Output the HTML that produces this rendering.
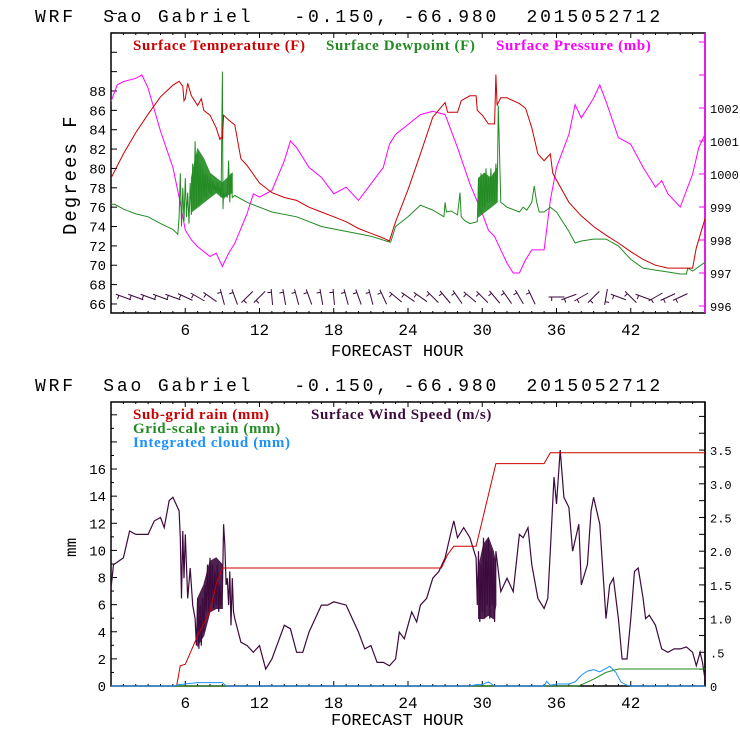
<!DOCTYPE html>
<html><head><meta charset="utf-8"><style>
html,body{margin:0;padding:0;background:#fff;}
svg{display:block;}
text{font-family:"Liberation Mono",monospace;}
.lg{font-family:"Liberation Serif",serif;font-size:15px;font-weight:bold;letter-spacing:0.6px;}
.tt{white-space:pre;}
</style></head><body>
<svg id="c" width="740" height="740" viewBox="0 0 740 740" xmlns="http://www.w3.org/2000/svg">
<text class="tt" xml:space="preserve" x="35" y="22" font-size="18" letter-spacing="2.85">WRF  Sao Gabriel   -0.150, -66.980  2015052712</text>
<text class="tt" xml:space="preserve" x="35" y="391" font-size="18" letter-spacing="2.85">WRF  Sao Gabriel   -0.150, -66.980  2015052712</text>
<text class="lg" x="133" y="50" fill="#cc0000">Surface Temperature (F)</text>
<text class="lg" x="326" y="50" fill="#228b22">Surface Dewpoint (F)</text>
<text class="lg" x="496" y="50" fill="#ff00ff">Surface Pressure (mb)</text>
<text class="lg" x="133" y="419" fill="#cc0000">Sub-grid rain (mm)</text>
<text class="lg" x="311" y="419" fill="#3d0a3d">Surface Wind Speed (m/s)</text>
<text class="lg" x="133" y="433" fill="#228b22">Grid-scale rain (mm)</text>
<text class="lg" x="133" y="447" fill="#1e90ff">Integrated cloud (mm)</text>
<text x="0" y="0" font-size="19" letter-spacing="2" transform="translate(76,235) rotate(-90)">Degrees F</text>
<text x="0" y="0" font-size="16" transform="translate(76,557) rotate(-90)">mm</text>
<text x="331" y="356" font-size="17">FORECAST HOUR</text>
<text x="331" y="725" font-size="17">FORECAST HOUR</text>
<g id="topg"></g><g id="botg"></g>
</svg>
<script>
// ---- data ----
const hourTicks=[6,12,18,24,30,36,42];
const tempTicks=[66,68,70,72,74,76,78,80,82,84,86,88];
const presTicks=[996,997,998,999,1000,1001,1002];
const mmTicks=[0,2,4,6,8,10,12,14,16];
const windTicks=[0,0.5,1.0,1.5,2.0,2.5,3.0,3.5];
const windTickLabels=["0",".5","1.0","1.5","2.0","2.5","3.0","3.5"];
const tempHours=[0,1,2,3,4,5,5.5,5.8,5.9,6,6.2,6.5,7,7.3,7.5,8,8.5,8.8,8.9,9.0,9.1,9.5,10,10.5,11,12,13,14,15,16,17,18,19,20,21,22,22.5,23,24,25,26,27,27.2,28,28.3,29,29.5,29.6,30,30.5,31,31.1,31.2,31.3,31.5,32,33,33.5,34,34.5,35,35.5,35.7,36,37,38,39,40,41,42,43,44,45,46,47,47.3,48];
const tempVals=[79,81.5,83.7,85.6,87.4,88.6,89,88.5,87,87.2,88.8,87.5,86.5,87.2,86,85.5,84.2,83,83.2,83.1,85.5,85,84.5,81,80.3,78.5,77.5,77,76.7,76,75.5,75,74.5,73.8,73.3,72.8,72.5,74.5,77.8,81.5,85.3,86.8,85.8,85.8,87,87.5,87.5,86,85.5,84.6,84.6,89.7,86.5,86.8,87.3,87.3,86.7,86.2,84.2,81.5,80.8,81.5,79.5,78.8,76.5,75.1,74,73.1,72.3,71.4,70.6,70,69.7,69.7,69.7,71.8,74.8];
const dewHours=[0,0.3,1,2,3,4,5,5.4,5.5,5.6,5.7,5.8,5.9,6.0,6.1,6.2,6.3,6.4,6.5,6.6,6.7,6.8,6.9,7.0,7.1,7.2,7.3,7.4,7.5,7.6,7.7,7.8,7.9,8.0,8.1,8.2,8.3,8.4,8.5,8.6,8.7,8.8,8.9,9.0,9.05,9.1,9.2,9.3,9.4,9.5,9.6,9.7,9.8,10,11,12,13,15,17,19,21,22.5,22.6,23,24,25,26,26.9,27,27.1,27.5,28,28.2,28.3,28.6,29,29.6,29.7,29.8,29.9,30.0,30.1,30.2,30.3,30.4,30.5,30.6,30.7,30.8,30.9,31.0,31.1,31.2,31.3,31.5,32,33,33.3,33.6,34,34.2,34.4,34.6,35,35.5,36,37,37.5,38,39,40,41,42,43,44,45,46,46.5,46.6,47,48];
const dewVals=[76.3,76.3,75.8,75.3,75,74.3,73.7,73.2,75,79.5,74,78,74.5,79,75,77.5,74.3,78.5,75.2,80.5,75.8,82.8,76,81.5,76.2,80.5,76.5,80,77,79.5,77,79.3,77.5,79,77.3,78.7,77.7,78.3,77.5,78.5,77.5,78,77,90,75.8,77.5,77,77.3,77,80.8,76.5,79.5,77,77.2,76.5,76,75.5,75,74,73.5,73,72.4,72.4,74,75,76.2,75.7,75,76.5,75.5,75.6,75.2,77.5,75,74.6,74.3,74.5,79,75.5,79.5,75.8,79.5,76,80,76.5,79,76.5,80,76.5,79.5,76.5,80.5,76.5,86.5,76.5,76,75.5,76,75.7,76.5,78.2,76.5,75.5,75.5,76,75.5,73.5,72.3,72.5,72.7,72.7,72,70.6,69.7,69.5,69.3,69.1,69.1,69.7,69.4,70.3];
const dewBand1Hours=[6.5,7,7.5,8,8.5,9,9.8];
const dewBand1Low=[75.5,76,76.5,77,77.5,77,77.5];
const dewBand1High=[79,82,81,79.5,79,78.5,79.5];
const dewBand2Hours=[29.7,30.2,30.7,31.2];
const dewBand2Low=[75,75.5,76,76.5];
const dewBand2High=[79,79.5,79,80];
const presHours=[0,0.5,1,2,2.5,3,4,5,5.5,6,6.5,7,8,8.5,9,9.5,10,11,11.5,12,13,14,14.5,15,16,17,18,19,20,21,22,22.5,23,24,25,26,27,28,29,30,30.5,31,32,32.5,33,33.5,34,35,35.5,36,37,37.5,38,39,39.5,40,41,42,43,44,44.5,45,46,47,47.5,48];
const presVals=[1002.2,1002.7,1002.8,1002.9,1003.0,1002.6,1001.3,1000.2,999.3,998.3,998.0,997.8,997.5,997.6,997.2,997.6,997.9,998.8,999.4,999.3,999.5,1000.4,1001.0,1000.8,1000.2,999.9,999.4,999.6,999.2,999.7,1000.2,1000.9,1001.2,1001.5,1001.8,1001.9,1001.8,1000.8,999.7,998.8,998.3,998.1,997.3,997.0,997.0,997.4,997.7,997.7,999.2,1000.2,1001.2,1002.1,1001.7,1002.3,1002.7,1002.2,1001.1,1000.9,1000.2,999.6,999.8,999.4,999.0,1000.0,1000.8,1001.2];
const barbHours=[1,2,3,4,5,6,7,8,9,10,11,12,13,14,15,16,17,18,19,20,21,22,23,24,25,26,27,28,29,30,31,32,33,34,36,37,38,39,40,41,42,43,44,45,46];
const barbAngles=[20,20,20,20,20,25,30,35,75,70,-45,-45,85,80,75,70,80,85,75,70,75,65,40,35,35,45,50,55,40,45,50,55,60,65,0,-20,-30,-45,-80,20,45,20,-30,-25,-25];
const subHours=[0,5.3,5.6,6,7,8,8.5,9,26.7,27.2,27.7,29.5,31.1,35.0,35.5,48];
const subVals=[0,0,1.5,1.6,3.7,5.5,7.5,8.7,8.7,9.7,10.3,10.3,16.4,16.4,17.2,17.2];
const gridHours=[0,37.8,39,40,41,48];
const gridVals=[0,0,0.5,1.0,1.25,1.25];
const cloudHours=[0,5,5.5,7,9,9.3,29,29.5,30,30.5,31,35,35.2,35.5,36,37,37.5,38,38.5,39,39.5,40,40.3,40.8,41.2,41.7,42,48];
const cloudVals=[0,0,0.1,0.25,0.25,0,0,0.1,0.1,0.3,0,0,0.35,0.05,0.15,0.15,0.3,0.8,1.1,1.2,1.05,1.3,1.45,1.0,0.3,0.05,0,0];
const windHours=[0,0.2,1,1.5,2,3,3.5,4,4.3,4.7,5,5.5,5.6,5.7,5.8,5.9,6,6.2,6.4,6.6,6.8,6.9,7.0,7.1,7.2,7.3,7.4,7.5,7.6,7.7,7.8,7.9,8.0,8.1,8.2,8.3,8.4,8.5,8.6,8.7,8.8,8.9,9.0,9.1,9.2,9.3,9.4,9.5,9.6,9.7,9.8,9.9,10,10.5,11,11.5,12,12.5,13,14,14.5,15,15.5,16,17,17.5,18,19,19.5,20,20.5,21,21.5,22,22.5,23,23.3,23.7,24,24.3,24.7,25,25.5,26,26.5,27,27.5,27.7,28,28.5,29,29.5,29.6,29.7,29.8,29.9,30.0,30.1,30.2,30.3,30.4,30.5,30.6,30.7,30.8,30.9,31.0,31.1,31.5,32,32.5,33,33.3,33.7,34,34.5,35,35.3,35.5,35.8,36,36.3,36.6,37,37.3,37.8,38,38.5,38.8,39,39.5,40,40.3,40.6,41,41.3,41.7,42,42.3,42.6,43,43.2,43.5,44,44.5,45,45.5,46,46.5,47,47.3,47.6,47.8,48];
const windVals=[1.45,1.8,1.9,2.3,2.25,2.25,2.45,2.5,2.35,2.75,2.8,2.6,2.2,1.3,2.3,1.6,2.25,1.3,1.75,1.2,1.0,0.6,1.3,0.55,1.2,0.6,1.3,0.8,1.5,1.1,1.8,1.1,1.9,1.2,1.8,1.15,1.7,1.2,1.8,1.1,1.5,1.2,1.4,2.4,2.1,1.5,1.6,1.2,1.7,0.9,1.6,1.1,1.0,0.65,0.6,0.5,0.6,0.25,0.4,0.9,0.85,0.5,0.5,0.8,1.2,1.2,1.25,1.2,1.0,0.8,0.55,0.6,0.35,0.35,0.3,0.4,0.8,0.7,0.9,1.1,0.95,1.2,1.3,1.6,1.7,1.9,2.3,2.45,2.2,2.35,2.2,1.9,1.2,2.0,0.95,1.8,1.1,2.2,1.0,2.1,1.2,2.2,1.0,2.0,1.2,1.9,0.95,2.0,1.4,1.6,1.4,2.25,2.2,2.35,1.8,1.3,1.15,1.3,2.0,3.1,2.7,3.5,2.8,2.65,2.0,2.4,1.5,1.8,2.6,2.8,2.4,1.0,1.5,1.6,1.0,0.4,0.4,1.0,1.7,1.75,1.3,1.0,1.05,0.9,0.55,0.5,0.55,0.55,0.58,0.5,0.3,0.5,0.35,0.1,0.15];
const windBand1Hours=[7.0,7.5,8.0,8.5,9.0];
const windBand1Low=[0.6,0.75,1.1,1.15,1.15];
const windBand1High=[1.3,1.5,1.85,1.9,1.8];
const windBand2Hours=[29.7,30.1,30.5,30.9,31.1];
const windBand2Low=[1.0,1.0,1.05,1.0,1.2];
const windBand2High=[1.75,2.1,2.2,2.0,1.8];
</script>
<script>
const NS="http://www.w3.org/2000/svg";
const X0=111,X1=705;
const xs=h=>X0+h*(X1-X0)/48;
const yT=v=>91+(88-v)*9.68;
const yP=p=>306-(p-996)*33;
const yM=v=>686-v*13.56;
const yW=w=>686-w*67.4;
function mk(tag,attrs,parent){const e=document.createElementNS(NS,tag);for(const k in attrs)e.setAttribute(k,attrs[k]);parent.appendChild(e);return e;}
const topG=document.getElementById('topg'),botG=document.getElementById('botg');
function frame(g,y0,y1,rightColor,name){
  const r=mk('rect',{x:X0,y:y0,width:X1-X0,height:y1-y0,fill:'none',stroke:'#000','stroke-width':1.5},g);
  
  
  const rl=mk('line',{x1:X1,y1:y0,x2:X1,y2:y1,stroke:rightColor,'stroke-width':1.5},g);
  
  
  for(let h=1;h<48;h++){
    const len=h%6===0?5:2;
    mk('line',{x1:xs(h),y1:y1,x2:xs(h),y2:y1-len,stroke:'#000'},g);
    mk('line',{x1:xs(h),y1:y0,x2:xs(h),y2:y0+len,stroke:'#000'},g);
  }
  hourTicks.forEach(h=>{
    const t=mk('text',{x:xs(h),y:y1+22,'font-size':16,'text-anchor':'middle'},g);
    t.textContent=h;
    
    
  });
}
function path(g,hs,vs,yf,color,name,w){
  let d='';hs.forEach((h,i)=>{d+=(i?'L':'M')+xs(h).toFixed(1)+','+yf(vs[i]).toFixed(1);});
  const p=mk('path',{d:d,fill:'none',stroke:color,'stroke-width':w||1},g);
  
  
}
function band(g,hs,lo,hi,yf,color,name){
  let d='';hs.forEach((h,i)=>{d+=(i?'L':'M')+xs(h).toFixed(1)+','+yf(hi[i]).toFixed(1);});
  for(let i=hs.length-1;i>=0;i--)d+='L'+xs(hs[i]).toFixed(1)+','+yf(lo[i]).toFixed(1);
  const p=mk('path',{d:d+'Z',fill:color,stroke:color,'stroke-width':1,opacity:0.9},g);
  
  
}
// top panel
frame(topG,33,313,'#ff00ff','top');
for(let v=66;v<=96;v+=2){mk('line',{x1:X0,y1:yT(v),x2:X0+6,y2:yT(v),stroke:'#000'},topG);}
tempTicks.forEach(v=>{const t=mk('text',{x:106,y:yT(v)+5,'font-size':14,'text-anchor':'end'},topG);t.textContent=v;
  
  });
for(let p=996;p<=1004;p++){if(yP(p)>33)mk('line',{x1:X1,y1:yP(p),x2:X1-6,y2:yP(p),stroke:'#ff00ff'},topG);}
presTicks.forEach(p=>{const t=mk('text',{x:710,y:yP(p)+5,'font-size':12},topG);t.textContent=p;
  
  });
path(topG,presHours,presVals,yP,'#ff00ff','pressure-line');
band(topG,dewBand1Hours,dewBand1Low,dewBand1High,yT,'#228b22','dewpoint-noise-band-1');
band(topG,dewBand2Hours,dewBand2Low,dewBand2High,yT,'#228b22','dewpoint-noise-band-2');
path(topG,dewHours,dewVals,yT,'#228b22','dewpoint-line');
path(topG,tempHours,tempVals,yT,'#cc0000','temperature-line');
barbHours.forEach((h,i)=>{
  const a=barbAngles[i]*Math.PI/180,cx=xs(h),cy=297,L=8;
  const dx=Math.cos(a)*L,dy=Math.sin(a)*L;
  const b=mk('line',{x1:cx-dx,y1:cy-dy,x2:cx+dx,y2:cy+dy,stroke:'#3d0a3d','stroke-width':1},topG);
  
  
  mk('line',{x1:cx-dx*0.6,y1:cy-dy*0.6,x2:cx-dx*0.6-dy*0.5,y2:cy-dy*0.6+dx*0.5,stroke:'#3d0a3d'},topG);
});
// bottom panel
frame(botG,402,686,'#000','bottom');
for(let v=0;v<=20;v++){if(yM(v)>402)mk('line',{x1:X0,y1:yM(v),x2:X0+(v%2?3:6),y2:yM(v),stroke:'#000'},botG);}
mmTicks.forEach(v=>{const t=mk('text',{x:106,y:yM(v)+5,'font-size':14,'text-anchor':'end'},botG);t.textContent=v;
  
  });
for(let w=0;w<=4.25;w+=0.25){if(yW(w)>402)mk('line',{x1:X1,y1:yW(w),x2:X1-6,y2:yW(w),stroke:'#000'},botG);}
windTicks.forEach((w,i)=>{const t=mk('text',{x:710,y:yW(w)+5,'font-size':12},botG);t.textContent=windTickLabels[i];
  
  });
band(botG,windBand1Hours,windBand1Low,windBand1High,yW,'#3d0a3d','wind-noise-band-1');
band(botG,windBand2Hours,windBand2Low,windBand2High,yW,'#3d0a3d','wind-noise-band-2');
path(botG,windHours,windVals,yW,'#3d0a3d','wind-speed-line',1.2);
path(botG,subHours,subVals,yM,'#cc0000','subgrid-rain-line');
path(botG,gridHours,gridVals,yM,'#228b22','grid-rain-line');
path(botG,cloudHours,cloudVals,yM,'#1e90ff','cloud-line');
</script>
</body></html>
